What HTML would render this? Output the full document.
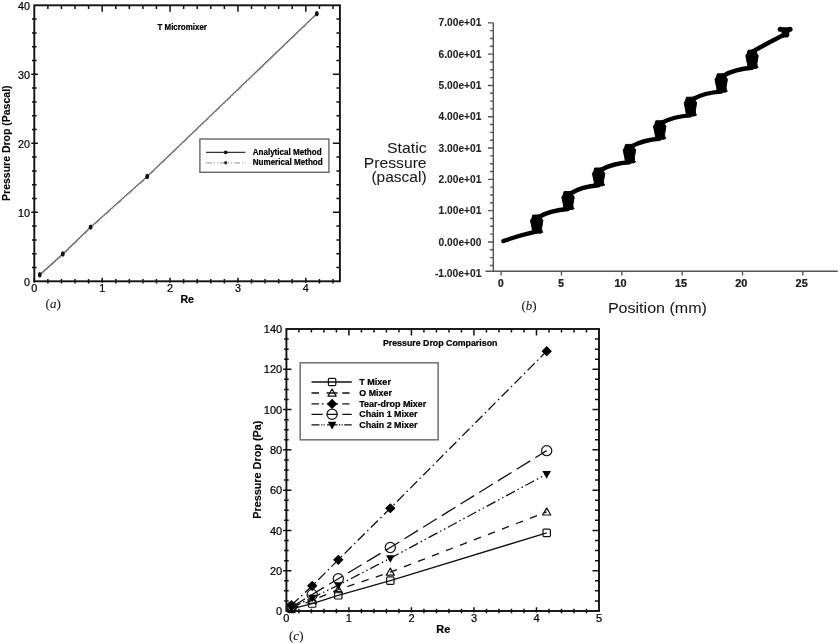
<!DOCTYPE html>
<html><head><meta charset="utf-8"><title>Figure</title><style>
html,body{margin:0;padding:0;background:#fff;}
body{width:840px;height:643px;overflow:hidden;position:relative;}
svg{position:absolute;left:0;top:0;display:block;filter:blur(0.3px);}
text{font-family:"Liberation Sans", sans-serif;fill:#000;stroke:#000;stroke-width:0.22px;}
.it{stroke-width:0.1px;}
.ta{font-size:10.8px;}
.tb9{font-size:8.8px;font-weight:bold;}
.tb8{font-size:8.4px;font-weight:bold;}
.tb11{font-size:10.8px;font-weight:bold;}
.tbr{font-size:10.6px;font-weight:bold;stroke-width:0.1px;}
.tbb{font-size:10.2px;font-weight:bold;fill:#222;stroke:#222;stroke-width:0.08px;}
.tc{font-size:11px;}
.tb8c{font-size:8.2px;font-weight:bold;}
.tbx{font-size:10.2px;font-weight:bold;fill:#222;}
.tr15{font-size:14.8px;fill:#1a1a1a;stroke-width:0.05px;}
.tr16{font-size:15.8px;fill:#222;}
.it{font-family:"Liberation Serif", serif;font-size:13px;fill:#222;}
.it tspan{font-style:italic;}
</style></head>
<body>
<svg width="840" height="643" viewBox="0 0 840 643">
<rect width="840" height="643" fill="#fff"/>
<rect x="34.3" y="5.3" width="305.6" height="276" fill="none" stroke="#111" stroke-width="1.9"/>
<path d="M34.3 282.8V277.7M47.88 283.5V279.1M61.45 283.5V279.1M75.03 283.5V279.1M88.6 283.5V279.1M102.18 282.8V277.7M115.76 283.5V279.1M129.33 283.5V279.1M142.91 283.5V279.1M156.48 283.5V279.1M170.06 282.8V277.7M183.64 283.5V279.1M197.21 283.5V279.1M210.79 283.5V279.1M224.36 283.5V279.1M237.94 282.8V277.7M251.52 283.5V279.1M265.09 283.5V279.1M278.67 283.5V279.1M292.24 283.5V279.1M305.82 282.8V277.7M319.4 283.5V279.1M332.97 283.5V279.1M47.88 5.3V8.9M61.45 5.3V8.9M75.03 5.3V8.9M88.6 5.3V8.9M102.18 5.3V11.8M115.76 5.3V8.9M129.33 5.3V8.9M142.91 5.3V8.9M156.48 5.3V8.9M170.06 5.3V11.8M183.64 5.3V8.9M197.21 5.3V8.9M210.79 5.3V8.9M224.36 5.3V8.9M237.94 5.3V11.8M251.52 5.3V8.9M265.09 5.3V8.9M278.67 5.3V8.9M292.24 5.3V8.9M305.82 5.3V11.8M319.4 5.3V8.9M332.97 5.3V8.9M32 267.5H36.6M32 253.7H36.6M32 239.9H36.6M32 226.1H36.6M31.3 212.3H37.9M32 198.5H36.6M32 184.7H36.6M32 170.9H36.6M32 157.1H36.6M31.3 143.3H37.9M32 129.5H36.6M32 115.7H36.6M32 101.9H36.6M32 88.1H36.6M31.3 74.3H37.9M32 60.5H36.6M32 46.7H36.6M32 32.9H36.6M32 19.1H36.6M339.9 267.5H336.4M339.9 253.7H336.4M339.9 239.9H336.4M339.9 226.1H336.4M339.9 212.3H332.9M339.9 198.5H336.4M339.9 184.7H336.4M339.9 170.9H336.4M339.9 157.1H336.4M339.9 143.3H332.9M339.9 129.5H336.4M339.9 115.7H336.4M339.9 101.9H336.4M339.9 88.1H336.4M339.9 74.3H332.9M339.9 60.5H336.4M339.9 46.7H336.4M339.9 32.9H336.4M339.9 19.1H336.4" stroke="#111" stroke-width="1.5" fill="none"/>
<text x="34.3" y="291.7" class="ta" text-anchor="middle">0</text>
<text x="102.18" y="291.7" class="ta" text-anchor="middle">1</text>
<text x="170.06" y="291.7" class="ta" text-anchor="middle">2</text>
<text x="237.94" y="291.7" class="ta" text-anchor="middle">3</text>
<text x="305.82" y="291.7" class="ta" text-anchor="middle">4</text>
<text x="29.9" y="285.7" class="ta" text-anchor="end">0</text>
<text x="29.9" y="216.7" class="ta" text-anchor="end">10</text>
<text x="29.9" y="147.7" class="ta" text-anchor="end">20</text>
<text x="29.9" y="78.7" class="ta" text-anchor="end">30</text>
<text x="29.9" y="9.7" class="ta" text-anchor="end">40</text>
<polyline points="39.73,274.75 62.81,254.05 90.57,227.14 147.18,176.42 316.82,13.58" fill="none" stroke="#555" stroke-width="1.2"/>
<polyline points="40.03,275.14 63.11,254.45 90.87,227.54 147.48,176.82 317.12,13.98" fill="none" stroke="#888" stroke-width="1.2" stroke-dasharray="6 2 1.5 2 1.5 2"/>
<ellipse cx="39.73" cy="274.75" rx="1.9" ry="2.7" fill="#111"/>
<ellipse cx="62.81" cy="254.05" rx="1.9" ry="2.7" fill="#111"/>
<ellipse cx="90.57" cy="227.14" rx="1.9" ry="2.7" fill="#111"/>
<ellipse cx="147.18" cy="176.42" rx="1.9" ry="2.7" fill="#111"/>
<ellipse cx="316.82" cy="13.58" rx="1.9" ry="2.7" fill="#111"/>
<text x="157.5" y="29.6" class="tb8" textLength="49.4" lengthAdjust="spacingAndGlyphs">T Micromixer</text>
<rect x="199.9" y="139" width="129" height="33.3" fill="#fff" stroke="#666" stroke-width="1.4"/>
<path d="M206 152.3H245.4" stroke="#333" stroke-width="1.2"/>
<circle cx="225.7" cy="152.3" r="1.9" fill="#111"/>
<path d="M206 162.8H245.4" stroke="#aaa" stroke-width="1.2" stroke-dasharray="6 2 1 2 1 2"/>
<circle cx="225.7" cy="162.8" r="1.7" fill="#333"/>
<text x="252.7" y="154.6" class="tb8" textLength="68.9" lengthAdjust="spacingAndGlyphs">Analytical Method</text>
<text x="252.7" y="165.3" class="tb8" textLength="70" lengthAdjust="spacingAndGlyphs">Numerical Method</text>
<text x="180.4" y="302.5" class="tb11" textLength="13.5" lengthAdjust="spacingAndGlyphs">Re</text>
<text x="0" y="0" class="tbr" text-anchor="middle" textLength="115.5" lengthAdjust="spacingAndGlyphs" transform="translate(9.8 143.2) rotate(-90)">Pressure Drop (Pascal)</text>
<text x="45.6" y="308.3" class="it">(<tspan>a</tspan>)</text>
<path d="M493.3 22.85V271.85M485.5 271.2H837.8M487.9 22.85H493.3M490.1 30.67H493.3M490.1 38.5H493.3M490.1 46.32H493.3M487.9 54.15H493.3M490.1 61.97H493.3M490.1 69.8H493.3M490.1 77.62H493.3M487.9 85.45H493.3M490.1 93.28H493.3M490.1 101.1H493.3M490.1 108.92H493.3M487.9 116.75H493.3M490.1 124.57H493.3M490.1 132.4H493.3M490.1 140.22H493.3M487.9 148.05H493.3M490.1 155.88H493.3M490.1 163.7H493.3M490.1 171.52H493.3M487.9 179.35H493.3M490.1 187.17H493.3M490.1 195H493.3M490.1 202.82H493.3M487.9 210.65H493.3M490.1 218.47H493.3M490.1 226.3H493.3M490.1 234.12H493.3M487.9 241.95H493.3M490.1 249.77H493.3M490.1 257.6H493.3M490.1 265.43H493.3M501.1 271.2V275.4M561.45 271.2V275.4M621.8 271.2V275.4M682.15 271.2V275.4M742.5 271.2V275.4M802.85 271.2V275.4" stroke="#555" stroke-width="1.4" fill="none"/>
<text x="481.4" y="26.45" class="tbb" text-anchor="end" textLength="42.8" lengthAdjust="spacingAndGlyphs">7.00e+01</text>
<text x="481.4" y="57.75" class="tbb" text-anchor="end" textLength="42.8" lengthAdjust="spacingAndGlyphs">6.00e+01</text>
<text x="481.4" y="89.05" class="tbb" text-anchor="end" textLength="42.8" lengthAdjust="spacingAndGlyphs">5.00e+01</text>
<text x="481.4" y="120.35" class="tbb" text-anchor="end" textLength="42.8" lengthAdjust="spacingAndGlyphs">4.00e+01</text>
<text x="481.4" y="151.65" class="tbb" text-anchor="end" textLength="42.8" lengthAdjust="spacingAndGlyphs">3.00e+01</text>
<text x="481.4" y="182.95" class="tbb" text-anchor="end" textLength="42.8" lengthAdjust="spacingAndGlyphs">2.00e+01</text>
<text x="481.4" y="214.25" class="tbb" text-anchor="end" textLength="42.8" lengthAdjust="spacingAndGlyphs">1.00e+01</text>
<text x="481.4" y="245.55" class="tbb" text-anchor="end" textLength="42.8" lengthAdjust="spacingAndGlyphs">0.00e+00</text>
<text x="481.4" y="276.85" class="tbb" text-anchor="end" textLength="46.5" lengthAdjust="spacingAndGlyphs">-1.00e+01</text>
<text x="500.8" y="286.7" class="tbx" text-anchor="middle">0</text>
<text x="561.15" y="286.7" class="tbx" text-anchor="middle">5</text>
<text x="620.6" y="286.7" class="tbx" text-anchor="middle" textLength="12.1" lengthAdjust="spacingAndGlyphs">10</text>
<text x="680.95" y="286.7" class="tbx" text-anchor="middle" textLength="12.1" lengthAdjust="spacingAndGlyphs">15</text>
<text x="741.3" y="286.7" class="tbx" text-anchor="middle" textLength="12.1" lengthAdjust="spacingAndGlyphs">20</text>
<text x="801.65" y="286.7" class="tbx" text-anchor="middle" textLength="12.1" lengthAdjust="spacingAndGlyphs">25</text>
<text x="426.6" y="152.9" class="tr15" text-anchor="end" textLength="39.6" lengthAdjust="spacingAndGlyphs">Static</text>
<text x="426.6" y="167.6" class="tr15" text-anchor="end" textLength="62.8" lengthAdjust="spacingAndGlyphs">Pressure</text>
<text x="426.6" y="181.9" class="tr15" text-anchor="end" textLength="55.2" lengthAdjust="spacingAndGlyphs">(pascal)</text>
<text x="607.9" y="312.5" class="tr15" textLength="99" lengthAdjust="spacingAndGlyphs">Position (mm)</text>
<text x="521.5" y="309.9" class="it">(<tspan>b</tspan>)</text>
<path d="M503.4 241Q517.4 236 535.8 231.7M538.8 217Q550.7 210.1 567.9 209M570.1 193.6Q582 186.4 598.5 185.3M600.7 170Q612.6 163.4 629.3 162.3M631.5 146.4Q643.4 139.8 659.6 138.7M661.8 122.8Q673.7 116.5 690.3 115.4M692.5 99.2Q704.4 92.7 721.1 91.6M723.3 75.8Q735.2 68.9 751.9 67.8M751.1 52.4Q765.1 44.4 785.5 34" stroke="#000" stroke-width="4.4" fill="none" stroke-linecap="round"/>
<path d="M532.8 215L540.8 215L541.5 218.3L542.9 220.5L541.6 228.2L541.9 231L542.9 232.2L540.8 233.2L532.8 232.9L532.1 228.2L530.5 220.5L531.9 218.3ZM564.1 191.6L572.1 191.6L572.8 194.9L574.2 197.1L572.9 204.6L573.2 207.4L574.2 208.6L572.1 209.6L564.1 209.3L563.4 204.6L561.8 197.1L563.2 194.9ZM594.7 168L602.7 168L603.4 171.3L604.8 173.5L603.5 180.9L603.8 183.7L604.8 184.9L602.7 185.9L594.7 185.6L594 180.9L592.4 173.5L593.8 171.3ZM625.5 144.4L633.5 144.4L634.2 147.7L635.6 149.9L634.3 157.9L634.6 160.7L635.6 161.9L633.5 162.9L625.5 162.6L624.8 157.9L623.2 149.9L624.6 147.7ZM655.8 120.8L663.8 120.8L664.5 124.1L665.9 126.3L664.6 134.3L664.9 137.1L665.9 138.3L663.8 139.3L655.8 139L655.1 134.3L653.5 126.3L654.9 124.1ZM686.5 97.2L694.5 97.2L695.2 100.5L696.6 102.7L695.3 111L695.6 113.8L696.6 115L694.5 116L686.5 115.7L685.8 111L684.2 102.7L685.6 100.5ZM717.3 73.8L725.3 73.8L726 77.1L727.4 79.3L726.1 87.2L726.4 90L727.4 91.2L725.3 92.2L717.3 91.9L716.6 87.2L715 79.3L716.4 77.1ZM748.1 50.2L756.1 50.2L756.8 53.5L758.2 55.7L756.9 63.4L757.2 66.2L758.2 67.4L756.1 68.4L748.1 68.1L747.4 63.4L745.8 55.7L747.2 53.5Z" fill="#000" stroke="#000" stroke-width="1" stroke-linejoin="round"/>
<path d="M779.8 29.4H790.4" stroke="#000" stroke-width="4.2" stroke-linecap="round" fill="none"/>
<circle cx="780.3" cy="29.2" r="2.5"/><circle cx="789.9" cy="29.2" r="2.5"/>
<path d="M781.3 30L789.6 30L789.2 36L787.5 37.5L783 37.5L781.8 36Z" fill="#000"/>
<rect x="286.4" y="329" width="312.6" height="282" fill="none" stroke="#111" stroke-width="1.9"/>
<path d="M298.9 613.2V608.8M311.41 613.2V608.8M323.91 613.2V608.8M336.42 613.2V608.8M348.92 612.5V607.2M361.42 613.2V608.8M373.93 613.2V608.8M386.43 613.2V608.8M398.94 613.2V608.8M411.44 612.5V607.2M423.94 613.2V608.8M436.45 613.2V608.8M448.95 613.2V608.8M461.46 613.2V608.8M473.96 612.5V607.2M486.46 613.2V608.8M498.97 613.2V608.8M511.47 613.2V608.8M523.98 613.2V608.8M536.48 612.5V607.2M548.98 613.2V608.8M561.49 613.2V608.8M573.99 613.2V608.8M586.5 613.2V608.8M298.9 329V332.6M311.41 329V332.6M323.91 329V332.6M336.42 329V332.6M348.92 329V335.5M361.42 329V332.6M373.93 329V332.6M386.43 329V332.6M398.94 329V332.6M411.44 329V335.5M423.94 329V332.6M436.45 329V332.6M448.95 329V332.6M461.46 329V332.6M473.96 329V335.5M486.46 329V332.6M498.97 329V332.6M511.47 329V332.6M523.98 329V332.6M536.48 329V335.5M548.98 329V332.6M561.49 329V332.6M573.99 329V332.6M586.5 329V332.6M284.1 600.93H288.7M284.1 590.86H288.7M284.1 580.79H288.7M283.1 570.71H291.4M284.1 560.64H288.7M284.1 550.57H288.7M284.1 540.5H288.7M283.1 530.43H291.4M284.1 520.36H288.7M284.1 510.28H288.7M284.1 500.21H288.7M283.1 490.14H291.4M284.1 480.07H288.7M284.1 470H288.7M284.1 459.93H288.7M283.1 449.86H291.4M284.1 439.78H288.7M284.1 429.71H288.7M284.1 419.64H288.7M283.1 409.57H291.4M284.1 399.5H288.7M284.1 389.43H288.7M284.1 379.36H288.7M283.1 369.28H291.4M284.1 359.21H288.7M284.1 349.14H288.7M284.1 339.07H288.7M599 600.93H595M599 590.86H595M599 580.79H595M599 570.71H592.5M599 560.64H595M599 550.57H595M599 540.5H595M599 530.43H592.5M599 520.36H595M599 510.28H595M599 500.21H595M599 490.14H592.5M599 480.07H595M599 470H595M599 459.93H595M599 449.86H592.5M599 439.78H595M599 429.71H595M599 419.64H595M599 409.57H592.5M599 399.5H595M599 389.43H595M599 379.36H595M599 369.28H592.5M599 359.21H595M599 349.14H595M599 339.07H595" stroke="#111" stroke-width="1.5" fill="none"/>
<text x="286.4" y="622" class="tc" text-anchor="middle">0</text>
<text x="348.92" y="622" class="tc" text-anchor="middle">1</text>
<text x="411.44" y="622" class="tc" text-anchor="middle">2</text>
<text x="473.96" y="622" class="tc" text-anchor="middle">3</text>
<text x="536.48" y="622" class="tc" text-anchor="middle">4</text>
<text x="599" y="622" class="tc" text-anchor="middle">5</text>
<text x="282.2" y="615.1" class="tc" text-anchor="end">0</text>
<text x="282.2" y="574.81" class="tc" text-anchor="end">20</text>
<text x="282.2" y="534.53" class="tc" text-anchor="end">40</text>
<text x="282.2" y="494.24" class="tc" text-anchor="end">60</text>
<text x="282.2" y="453.96" class="tc" text-anchor="end">80</text>
<text x="282.2" y="413.67" class="tc" text-anchor="end">100</text>
<text x="282.2" y="373.38" class="tc" text-anchor="end">120</text>
<text x="282.2" y="333.1" class="tc" text-anchor="end">140</text>
<polyline points="291.5,608.99 312.2,603.55 338.3,595.29 390.3,580.58 546.7,532.85" fill="none" stroke="#111" stroke-width="1.3"/>
<polyline points="291.5,608.58 312.2,600.32 338.3,589.65 390.3,572.12 546.7,511.9" fill="none" stroke="#111" stroke-width="1.3" stroke-dasharray="7.5 7.5"/>
<polyline points="291.5,605.16 312.2,585.82 338.3,559.84 390.3,508.27 546.7,351.16" fill="none" stroke="#111" stroke-width="1.3" stroke-dasharray="10 3.5 1.5 3.5"/>
<polyline points="291.5,607.17 312.2,594.48 338.3,578.77 390.3,547.55 546.7,450.66" fill="none" stroke="#111" stroke-width="1.3" stroke-dasharray="16 6"/>
<polyline points="291.5,607.78 312.2,597.71 338.3,585.22 390.3,558.23 546.7,474.03" fill="none" stroke="#111" stroke-width="1.3" stroke-dasharray="10 3 1.5 3 1.5 3"/>
<rect x="287.8" y="605.29" width="7.4" height="7.4" rx="1.1" fill="none" stroke="#111" stroke-width="1.2"/>
<rect x="308.5" y="599.85" width="7.4" height="7.4" rx="1.1" fill="none" stroke="#111" stroke-width="1.2"/>
<rect x="334.6" y="591.59" width="7.4" height="7.4" rx="1.1" fill="none" stroke="#111" stroke-width="1.2"/>
<rect x="386.6" y="576.88" width="7.4" height="7.4" rx="1.1" fill="none" stroke="#111" stroke-width="1.2"/>
<rect x="543" y="529.15" width="7.4" height="7.4" rx="1.1" fill="none" stroke="#111" stroke-width="1.2"/>
<path d="M291.5 604.58L295.6 611.68H287.4Z" fill="none" stroke="#111" stroke-width="1.2" stroke-linejoin="round"/>
<path d="M312.2 596.32L316.3 603.42H308.1Z" fill="none" stroke="#111" stroke-width="1.2" stroke-linejoin="round"/>
<path d="M338.3 585.65L342.4 592.75H334.2Z" fill="none" stroke="#111" stroke-width="1.2" stroke-linejoin="round"/>
<path d="M390.3 568.12L394.4 575.22H386.2Z" fill="none" stroke="#111" stroke-width="1.2" stroke-linejoin="round"/>
<path d="M546.7 507.9L550.8 515H542.6Z" fill="none" stroke="#111" stroke-width="1.2" stroke-linejoin="round"/>
<path d="M291.5 600.06L296.7 605.16L291.5 610.26L286.3 605.16Z" fill="#000"/>
<path d="M312.2 580.72L317.4 585.82L312.2 590.92L307 585.82Z" fill="#000"/>
<path d="M338.3 554.74L343.5 559.84L338.3 564.94L333.1 559.84Z" fill="#000"/>
<path d="M390.3 503.17L395.5 508.27L390.3 513.37L385.1 508.27Z" fill="#000"/>
<path d="M546.7 346.06L551.9 351.16L546.7 356.26L541.5 351.16Z" fill="#000"/>
<circle cx="291.5" cy="607.17" r="5.1" fill="none" stroke="#111" stroke-width="1.2"/>
<circle cx="312.2" cy="594.48" r="5.1" fill="none" stroke="#111" stroke-width="1.2"/>
<circle cx="338.3" cy="578.77" r="5.1" fill="none" stroke="#111" stroke-width="1.2"/>
<circle cx="390.3" cy="547.55" r="5.1" fill="none" stroke="#111" stroke-width="1.2"/>
<circle cx="546.7" cy="450.66" r="5.1" fill="none" stroke="#111" stroke-width="1.2"/>
<path d="M287.2 604.78H295.8L291.5 612.38Z" fill="#000"/>
<path d="M307.9 594.71H316.5L312.2 602.31Z" fill="#000"/>
<path d="M334 582.22H342.6L338.3 589.82Z" fill="#000"/>
<path d="M386 555.23H394.6L390.3 562.83Z" fill="#000"/>
<path d="M542.4 471.03H551L546.7 478.63Z" fill="#000"/>
<rect x="300.2" y="362.8" width="137.9" height="77" fill="#fff" stroke="#777" stroke-width="1.6"/>
<path d="M311.5 382H351.8" stroke="#111" stroke-width="1.3"/>
<rect x="328.4" y="378.3" width="7.4" height="7.4" rx="1.1" fill="none" stroke="#111" stroke-width="1.2"/>
<text x="359.3" y="384.6" class="tb8c" textLength="31.6" lengthAdjust="spacingAndGlyphs">T Mixer</text>
<path d="M311.5 393H319M326.5 393H337.5M342.3 393H349.5" stroke="#111" stroke-width="1.3"/>
<path d="M332.1 389L336.2 396.1H328Z" fill="none" stroke="#111" stroke-width="1.2" stroke-linejoin="round"/>
<text x="359.3" y="395.6" class="tb8c" textLength="32.6" lengthAdjust="spacingAndGlyphs">O Mixer</text>
<path d="M311.5 403.9H319M321.8 403.9H323.6M327 403.9H338M342.3 403.9H349.5" stroke="#111" stroke-width="1.3"/>
<path d="M332.1 398.8L337.3 403.9L332.1 409L326.9 403.9Z" fill="#000"/>
<text x="359.3" y="406.6" class="tb8c" textLength="67" lengthAdjust="spacingAndGlyphs">Tear-drop Mixer</text>
<path d="M311.5 414.3H322.7M326.5 414.3H338M342.3 414.3H351.7" stroke="#111" stroke-width="1.3"/>
<circle cx="332.1" cy="414.3" r="5.1" fill="none" stroke="#111" stroke-width="1.2"/>
<text x="359.3" y="417" class="tb8c" textLength="58.2" lengthAdjust="spacingAndGlyphs">Chain 1 Mixer</text>
<path d="M311.5 424.8H319.5M321.2 424.8H322.4M323.6 424.8H324.8M327 424.8H337.5M339 424.8H340.2M341.6 424.8H342.8M344.2 424.8H351.7" stroke="#111" stroke-width="1.3"/>
<path d="M327.8 421.8H336.4L332.1 429.4Z" fill="#000"/>
<text x="359.3" y="427.5" class="tb8c" textLength="58.2" lengthAdjust="spacingAndGlyphs">Chain 2 Mixer</text>
<text x="382.9" y="345.5" class="tb8c" textLength="114.5" lengthAdjust="spacingAndGlyphs">Pressure Drop Comparison</text>
<text x="436.3" y="632.8" class="tb11" textLength="14" lengthAdjust="spacingAndGlyphs">Re</text>
<text x="0" y="0" class="tbr" text-anchor="middle" textLength="98.2" lengthAdjust="spacingAndGlyphs" transform="translate(260.9 469.7) rotate(-90)">Pressure Drop (Pa)</text>
<text x="289" y="639.6" class="it">(<tspan>c</tspan>)</text>
</svg>
</body></html>
